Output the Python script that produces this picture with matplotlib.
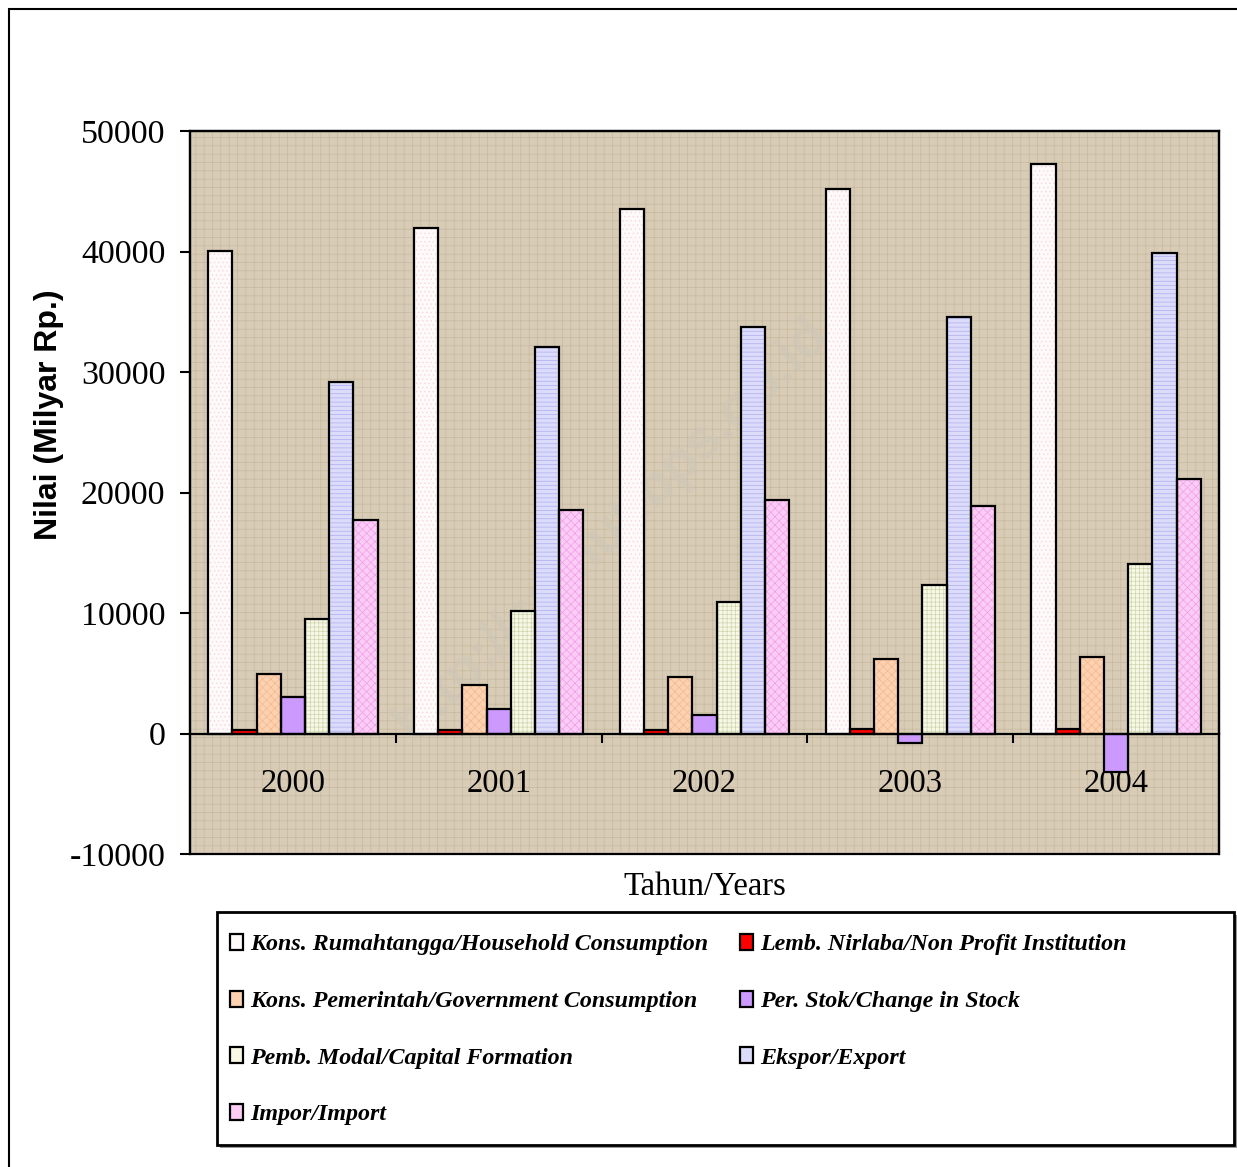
import numpy as np
import matplotlib.pyplot as plt
import matplotlib.patches as mpatches

# data (Milyar Rp.)
years = ["2000", "2001", "2002", "2003", "2004"]
series_names = [
    "Kons. Rumahtangga/Household Consumption",
    "Lemb. Nirlaba/Non Profit Institution",
    "Kons. Pemerintah/Government Consumption",
    "Per. Stok/Change in Stock",
    "Pemb. Modal/Capital Formation",
    "Ekspor/Export",
    "Impor/Import",
]
household = [40050, 41950, 43530, 45190, 47260]
nirlaba = [300, 300, 250, 350, 400]
government = [4940, 4030, 4690, 6180, 6350]
stock = [3030, 2030, 1540, -790, -3200]
capital = [9500, 10170, 10910, 12320, 14070]
export = [29170, 32080, 33730, 34560, 39880]
impor = [17720, 18550, 19380, 18880, 21120]
y_ticks = [-10000, 0, 10000, 20000, 30000, 40000, 50000]

values = [household, nirlaba, government, stock, capital, export, impor]
face = ["#fefafa", "#ff0000", "#fcd2b0", "#cc99ff", "#f8f8e4", "#dcdcfa", "#fbcdf5"]
hatch_col = ["#f4d8de", "#ff0000", "#f5b890", "#cc99ff", "#ccd5ae", "#adadf0", "#f29cea"]
hatches = ["....", None, "xxxx", None, "++++", "----", "xxxx"]

plt.rcParams["font.family"] = ["Liberation Serif", "DejaVu Serif"]
plt.rcParams["hatch.linewidth"] = 0.5

fig = plt.figure(figsize=(12.37, 11.67), dpi=100)
W, H = 1237, 1167
ax = fig.add_axes([190 / W, 1 - 854 / H, 1029 / W, 723 / H])

# chart area frame
fig.patches.append(mpatches.Rectangle((9 / W, -0.01), 1.1, 1 - 9 / H + 0.01, transform=fig.transFigure,
                                      fill=False, edgecolor="black", lw=1.5))

# textured background
ax.set_facecolor("#d8ccb6")
ax.add_patch(mpatches.Rectangle((0, 0), 1, 1, transform=ax.transAxes, facecolor="none",
                                edgecolor="#c6b99f", hatch="++", lw=0, zorder=0))

x = np.arange(len(years))
n = len(values)
w = 1 / (n + 1.5)
for k, (vals, fc, hc, ht) in enumerate(zip(values, face, hatch_col, hatches)):
    pos = x + (k - (n - 1) / 2) * w
    ax.bar(pos, vals, width=w, color=fc, edgecolor=hc, hatch=ht, lw=0, zorder=2)
    ax.bar(pos, vals, width=w, fill=False, edgecolor="black", lw=1.6, zorder=3)

ax.set_xlim(-0.5, len(years) - 0.5)
ax.set_ylim(-10000, 50000)
ax.set_yticks(y_ticks)
ax.set_yticklabels([str(v) for v in y_ticks])
ax.tick_params(axis="y", direction="out", length=7, width=1.5, pad=10.8, labelsize=24.5)

# x axis at zero with boundary ticks
for s in ["top", "right", "left"]:
    ax.spines[s].set_linewidth(1.6)
ax.spines["bottom"].set_position(("data", 0))
ax.spines["bottom"].set_linewidth(1.6)
ax.add_patch(mpatches.Rectangle((0, 0), 1, 1, transform=ax.transAxes, fill=False,
                                edgecolor="black", lw=1.6, zorder=5, clip_on=False))
ax.set_xticks(x[:-1] + 0.5)
ax.set_xticklabels([])
ax.set_xticks(x, minor=True)
ax.set_xticklabels(years, minor=True)
ax.tick_params(axis="x", which="major", direction="out", length=6.5, width=1.5)
ax.tick_params(axis="x", which="minor", length=0, pad=25, labelsize=23.5)

ax.set_ylabel("Nilai (Milyar Rp.)", family=["Liberation Sans", "DejaVu Sans"],
              fontweight="bold", fontsize=23)
ax.yaxis.set_label_coords(-0.1225, 0.607)
ax.text(0.5, -0.045, "Tahun/Years", transform=ax.transAxes, ha="center", va="center", fontsize=23.5)

# watermark
ax.text(0.41, 0.45, "http://sumut.bps.go.id", transform=ax.transAxes, rotation=44,
        ha="center", va="center", fontsize=40, color="#cfc6b6", alpha=0.6, zorder=1,
        family=["Liberation Sans", "DejaVu Sans"], fontweight="bold")

# legend box with shadow
lx0, ly0, lx1, ly1 = 217, 912, 1234, 1145
fig.patches.append(mpatches.Rectangle(((lx0 + 3) / W, 1 - (ly1 + 3) / H), (lx1 - lx0) / W, (ly1 - ly0) / H,
                                      transform=fig.transFigure, facecolor="#999999", edgecolor="none"))
fig.patches.append(mpatches.Rectangle((lx0 / W, 1 - ly1 / H), (lx1 - lx0) / W, (ly1 - ly0) / H,
                                      transform=fig.transFigure, facecolor="white", edgecolor="black", lw=2))

handles = [mpatches.Patch(facecolor=fc, edgecolor="black", lw=1.6) for fc in face]
order = [0, 2, 4, 6, 1, 3, 5]
leg = fig.legend([handles[i] for i in order], [series_names[i] for i in order],
                 loc="upper left", bbox_to_anchor=(230 / W, 1 - 934 / H), ncol=2, frameon=False,
                 prop={"family": "Liberation Serif", "weight": "bold", "style": "italic", "size": 17.3},
                 handlelength=0.55, handleheight=0.65, handletextpad=0.3, labelspacing=1.46,
                 columnspacing=1.3, borderaxespad=0, borderpad=0)

fig.savefig("out.png", dpi=100)
